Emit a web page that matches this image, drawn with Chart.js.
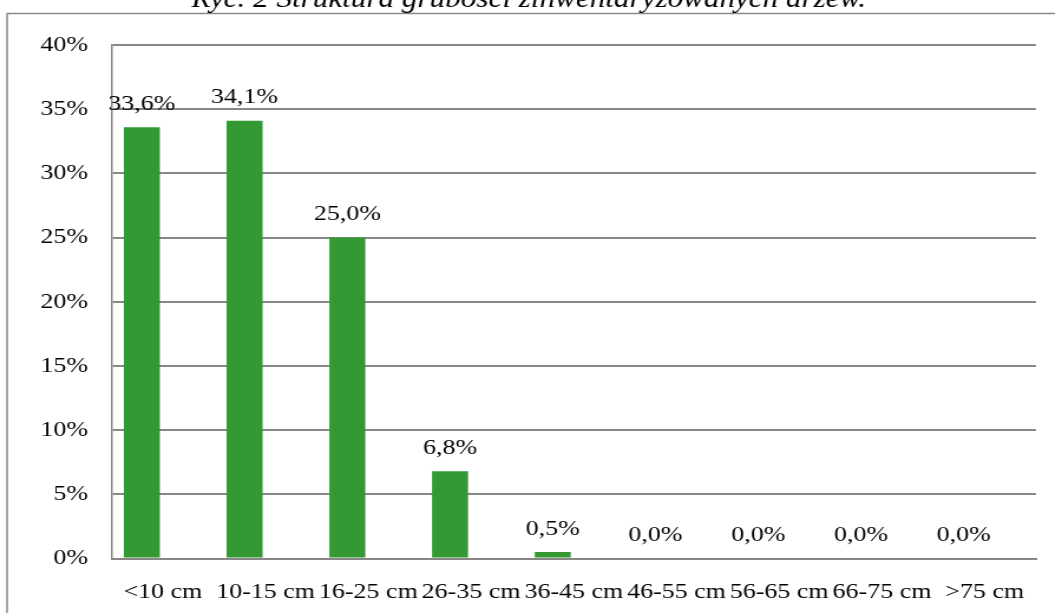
<!DOCTYPE html>
<html>
<head>
<meta charset="utf-8">
<script src="https://cdn.jsdelivr.net/npm/chart.js@4/dist/chart.umd.min.js"></script>
<style>
  html, body { margin: 0; padding: 0; background: #ffffff; overflow: hidden; }
  #wrap { width: 894px; height: 613px; transform: scaleX(1.18); transform-origin: 0 0; }
</style>
</head>
<body>
<div id="wrap"><canvas id="c" width="894" height="613"></canvas></div>
<script>
// ---- data ----
const chartTitle = 'Ryc. 2 Struktura grubości zinwentaryzowanych drzew.';
const categories = ['<10 cm', '10-15 cm', '16-25 cm', '26-35 cm', '36-45 cm', '46-55 cm', '56-65 cm', '66-75 cm', '>75 cm'];
const shareValues = [33.6, 34.1, 25.0, 6.8, 0.5, 0.0, 0.0, 0.0, 0.0];
const emptySeries = [null, null, null, null, null, null, null, null, null];
const yTickValues = [0, 5, 10, 15, 20, 25, 30, 35, 40];

const FONT = "'Liberation Serif', 'Times New Roman', serif";
const GRID = '#878787';

const fmtPct = v => v.toFixed(1).replace('.', ',') + '%';

const framePlugin = {
  id: 'frame',
  beforeDraw(chart) {
    const ctx = chart.ctx;
    ctx.save();
    ctx.strokeStyle = '#8a8a8a';
    ctx.lineWidth = 1.5;
    ctx.strokeRect(6, 13.5, 2000, 2000);
    ctx.fillStyle = '#000';
    ctx.font = 'italic 26.4px ' + FONT;
    ctx.textAlign = 'center';
    ctx.textBaseline = 'alphabetic';
    ctx.fillText(chartTitle, 448, 7);
    ctx.restore();
  }
};

const labelPlugin = {
  id: 'valueLabels',
  afterDatasetsDraw(chart) {
    const ctx = chart.ctx;
    const meta = chart.getDatasetMeta(0);
    ctx.save();
    ctx.fillStyle = '#000';
    ctx.font = '22px ' + FONT;
    ctx.textAlign = 'center';
    ctx.textBaseline = 'alphabetic';
    meta.data.forEach((bar, i) => {
      const v = chart.data.datasets[0].data[i];
      ctx.fillText(fmtPct(v), bar.x, bar.y - 17.5);
    });
    ctx.restore();
  }
};

new Chart(document.getElementById('c'), {
  type: 'bar',
  data: {
    labels: categories,
    datasets: [
      {
        label: 'Udział',
        data: shareValues,
        backgroundColor: '#339933',
        borderWidth: 0,
        categoryPercentage: 0.818,
        barPercentage: 0.857
      },
      {
        label: '',
        data: emptySeries,
        backgroundColor: '#339933',
        borderWidth: 0,
        categoryPercentage: 0.818,
        barPercentage: 0.857
      }
    ]
  },
  options: {
    responsive: false,
    animation: false,
    events: [],
    layout: { padding: { top: 45, right: 16, left: 0, bottom: 0 } },
    plugins: {
      legend: { display: false },
      title: { display: false },
      tooltip: { enabled: false }
    },
    scales: {
      x: {
        grid: { display: false, drawTicks: false },
        border: { display: true, color: GRID, width: 2 },
        ticks: {
          color: '#000',
          font: { family: FONT, size: 22 },
          maxRotation: 0,
          minRotation: 0,
          autoSkip: false,
          padding: 21
        },
        afterFit(scale) { scale.height = 54.5; }
      },
      y: {
        min: 0,
        max: 40,
        afterBuildTicks(scale) { scale.ticks = yTickValues.map(v => ({ value: v })); },
        grid: { color: GRID, lineWidth: 2, drawTicks: false },
        border: { display: true, color: GRID, width: 1.5 },
        ticks: {
          color: '#000',
          font: { family: FONT, size: 22 },
          padding: 20,
          callback: v => v + '%'
        },
        afterFit(scale) { scale.width = 94.5; }
      }
    }
  },
  plugins: [framePlugin, labelPlugin]
});
</script>
</body>
</html>
